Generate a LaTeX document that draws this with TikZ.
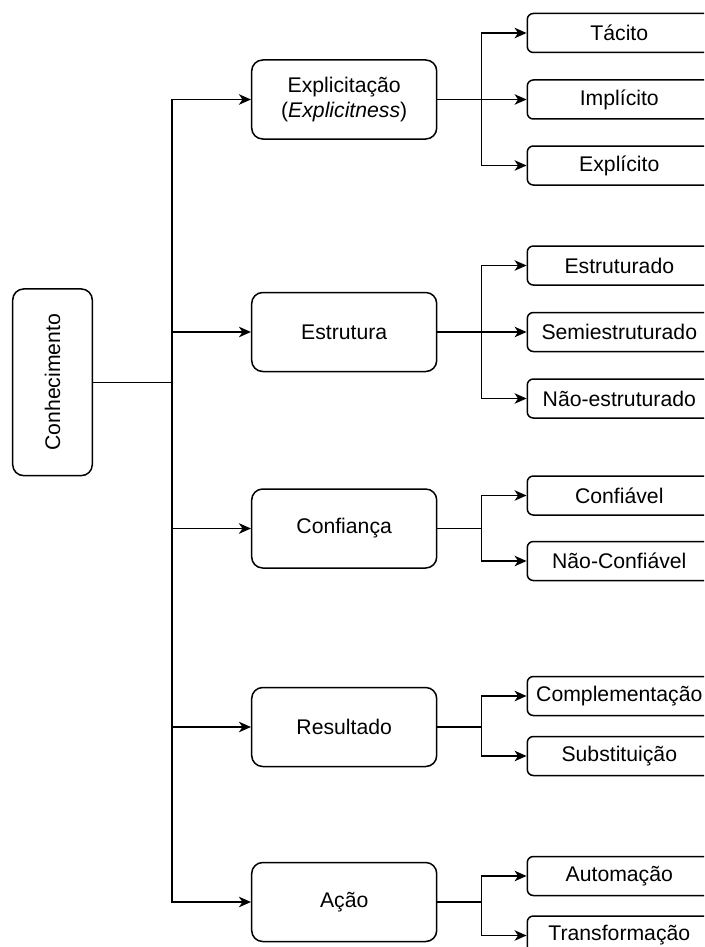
\documentclass[tikz,border=0pt]{standalone}
\usepackage{fontspec}
\setmainfont{Liberation Sans}
\usetikzlibrary{arrows.meta}
\tikzset{
  box/.style={draw=black, line width=1.5pt, rounded corners=11pt, align=center, inner sep=0pt,
    font=\fontsize{21.2}{25.5}\selectfont},
  mid/.style={box, minimum width=185pt, minimum height=79pt},
  leaf/.style={box, rounded corners=6pt, minimum width=184pt, minimum height=39pt},
  conn/.style={line width=1.5pt},
  arr/.style={conn, -{Stealth[length=12pt,width=10.5pt,inset=3.5pt]}}
}
\begin{document}
\begin{tikzpicture}[x=1pt,y=-1pt]
\useasboundingbox (0,0) rectangle (704,947);
\clip (0,0) rectangle (704,947);
% root
\node[box, minimum width=79.6pt, minimum height=186.7pt] (con) at (52.5,382.3) {};
\node[rotate=90, font=\fontsize{21.2}{25.5}\selectfont] (contxt) at (con.center) {Conhecimento};
% level 2
\node[mid] (exp) at (344.2,99.5) {Explicitação\\(\textit{Explicitness})};
\node[mid] (est) at (344.2,332) {Estrutura};
\node[mid] (cnf) at (344.2,528.5) {Confiança};
\node[mid] (res) at (344.2,727) {Resultado};
\node[mid] (aca) at (344.2,902) {Ação};
% level 3
\node[leaf] (tac) at (619.3,33) {Tácito};
\node[leaf] (imp) at (619.3,99.5) {Implícito};
\node[leaf] (expl) at (619.3,165.5) {Explícito};
\node[leaf] (estr) at (619.3,265.5) {Estruturado};
\node[leaf] (semi) at (619.3,332) {Semiestruturado};
\node[leaf] (nest) at (619.3,398.5) {Não-estruturado};
\node[leaf] (conf) at (619.3,495.5) {Confiável};
\node[leaf] (nconf) at (619.3,561) {Não-Confiável};
\node[leaf] (comp) at (619.3,696) {Complementação};
\node[leaf] (subs) at (619.3,756) {Substituição};
\node[leaf] (auto) at (619.3,876) {Automação};
\node[leaf] (trans) at (619.3,935.5) {Transformação};
% trunk
\coordinate (t) at (172,382.3);
\draw[conn] (con.east) -- (t);
\foreach \n in {exp,est,cnf,res,aca} \draw[arr] (t) |- (\n.west);
% branches
\coordinate (b1) at (481.5,99.5);
\coordinate (b2) at (481.5,332);
\coordinate (b3) at (481.5,528.5);
\coordinate (b4) at (481.5,727);
\coordinate (b5) at (481.5,902);
\draw[conn] (exp.east) -- (b1);
\draw[conn] (est.east) -- (b2);
\draw[conn] (cnf.east) -- (b3);
\draw[conn] (res.east) -- (b4);
\draw[conn] (aca.east) -- (b5);
\foreach \n in {tac,imp,expl} \draw[arr] (b1) |- (\n.west);
\foreach \n in {estr,semi,nest} \draw[arr] (b2) |- (\n.west);
\foreach \n in {conf,nconf} \draw[arr] (b3) |- (\n.west);
\foreach \n in {comp,subs} \draw[arr] (b4) |- (\n.west);
\foreach \n in {auto,trans} \draw[arr] (b5) |- (\n.west);
\end{tikzpicture}
\end{document}
